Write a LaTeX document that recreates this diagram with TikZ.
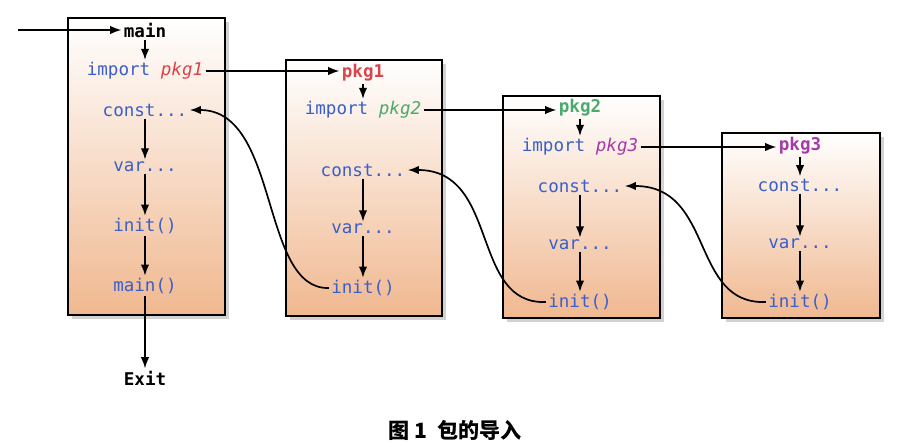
\documentclass[tikz,border=0pt]{standalone}
\usepackage{fontspec}
\setmonofont{DejaVu Sans Mono}
\newfontfamily\cjk{Noto Sans CJK SC}
\usetikzlibrary{shadows,arrows.meta}
\definecolor{kw}{HTML}{3A5FC8}
\definecolor{pkred}{HTML}{D9454A}
\definecolor{pkgreen}{HTML}{4BAA6E}
\definecolor{pkpurple}{HTML}{A43BA8}
\definecolor{peach}{HTML}{F0B890}
\tikzset{
  pkgbox/.style={draw=black,line width=1.2pt,top color=white,bottom color=peach,
    drop shadow={shadow xshift=2.5pt,shadow yshift=-2.5pt,fill=gray!70}},
  stmt/.style={font=\ttfamily\fontsize{12.5}{14}\selectfont,text=kw,inner sep=1.5pt},
  head/.style={font=\ttfamily\fontsize{12.5}{14}\selectfont\bfseries,inner sep=1.5pt},
  flow/.style={-{Latex[length=8pt,width=6pt]},line width=1.2pt},
}
\begin{document}
\begin{tikzpicture}[x=0.025cm,y=-0.025cm]
    \useasboundingbox (0,0) rectangle (908,447);

    % package boxes
    \path[pkgbox] (68,18) rectangle (225,315);
    \path[pkgbox] (286,60) rectangle (442,316);
    \path[pkgbox] (503,96) rectangle (660,318);
    \path[pkgbox] (722,133) rectangle (880,318);

    % main
    \coordinate (start) at (18,30);
    \node[head] (main) at (145,30) {main};
    \node[stmt] (imp1) at (145,71) {import \textcolor{pkred}{\itshape pkg1}};
    \node[stmt] (const0) at (145,110) {const...};
    \node[stmt] (var0) at (145,167) {var...};
    \node[stmt] (init0) at (145,226) {init()};
    \node[stmt] (mainf) at (145,286) {main()};
    \node[head] (exit) at (145,378) {Exit};

    % pkg1
    \node[head,text=pkred] (p1) at (363,73) {pkg1};
    \node[stmt] (imp2) at (363,110) {import \textcolor{pkgreen}{\itshape pkg2}};
    \node[stmt] (const1) at (363,170) {const...};
    \node[stmt] (var1) at (363,229) {var...};
    \node[stmt] (init1) at (363,288) {init()};

    % pkg2
    \node[head,text=pkgreen] (p2) at (580,108) {pkg2};
    \node[stmt] (imp3) at (580,147) {import \textcolor{pkpurple}{\itshape pkg3}};
    \node[stmt] (const2) at (580,186) {const...};
    \node[stmt] (var2) at (580,245) {var...};
    \node[stmt] (init2) at (580,302) {init()};

    % pkg3
    \node[head,text=pkpurple] (p3) at (800,146) {pkg3};
    \node[stmt] (const3) at (800,185) {const...};
    \node[stmt] (var3) at (800,244) {var...};
    \node[stmt] (init3) at (800,302) {init()};

    \draw[flow] (start) -- (main);
    \draw[flow] (main) -- (imp1);
    \draw[flow] (const0) -- (var0);
    \draw[flow] (var0) -- (init0);
    \draw[flow] (init0) -- (mainf);
    \draw[flow] (mainf) -- (exit);

    \draw[flow] (imp1.east) -- (p1.west |- imp1.east);
    \draw[flow] (p1) -- (imp2);
    \draw[flow] (const1) -- (var1);
    \draw[flow] (var1) -- (init1);

    \draw[flow] (imp2.east) -- (p2.west |- imp2.east);
    \draw[flow] (p2) -- (imp3);
    \draw[flow] (const2) -- (var2);
    \draw[flow] (var2) -- (init2);

    \draw[flow] (imp3.east) -- (p3.west |- imp3.east);
    \draw[flow] (p3) -- (const3);
    \draw[flow] (const3) -- (var3);
    \draw[flow] (var3) -- (init3);

    % returns after init
    \draw[flow] (init1.west) .. controls (260,290) and (280,110) .. (const0.east);
    \draw[flow] (init2.west) .. controls (470,305) and (500,170) .. (const1.east);
    \draw[flow] (init3.west) .. controls (690,305) and (715,186) .. (const2.east);

    \node[font=\cjk\bfseries\fontsize{15}{18}\selectfont] (cap) at (455,430) {图 1\ \ 包的导入};
\end{tikzpicture}
\end{document}
